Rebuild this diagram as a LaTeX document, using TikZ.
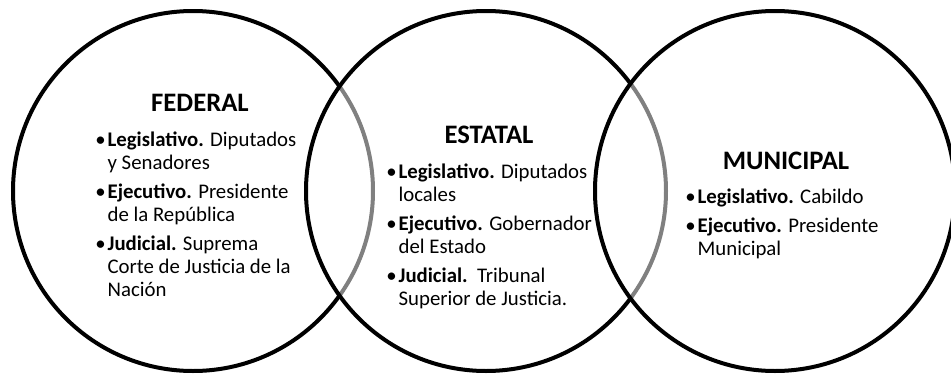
\documentclass[tikz,border=0pt]{standalone}
\usepackage{fontspec}
\setmainfont{Carlito}
\tikzset{
  ring/.style={circle, draw=black, line width=3pt, fill=white, fill opacity=0.5,
    text opacity=1, minimum size=270pt, inner sep=0pt},
  titulo/.style={font=\fontsize{20}{24}\selectfont\bfseries, inner sep=0pt},
  lista/.style={anchor=base west, inner sep=0pt, align=left,
    font=\fontsize{15.6}{17.25}\selectfont}
}
\newcommand{\vinieta}{\textbullet}
\begin{document}
\begin{tikzpicture}[x=0.75pt,y=-0.75pt]
    \useasboundingbox (0,0) rectangle (951,375);

    % The three circles, each one greys the outline underneath
    \node[ring] (federal) at (193,191) {};
    \node[ring] (estatal) at (486,191) {};
    \node[ring] (municipal) at (775,191) {};

    % Federal
    \node[titulo] (tfed) at (200,103) {FEDERAL};
    \node[lista] (lfed) at (95,146) {\begin{tabular}[t]{@{}l@{\hspace{1.5pt}}l@{}}
      \vinieta & \textbf{Legislativo.} Diputados\\
               & y Senadores\\[4.5pt]
      \vinieta & \textbf{Ejecutivo.} Presidente\\
               & de la República\\[4.5pt]
      \vinieta & \textbf{Judicial.} Suprema\\
               & Corte de Justicia de la\\
               & Nación
    \end{tabular}};

    % Estatal
    \node[titulo] (test) at (489,135) {ESTATAL};
    \node[lista] (lest) at (386,178) {\begin{tabular}[t]{@{}l@{\hspace{1.5pt}}l@{}}
      \vinieta & \textbf{Legislativo.} Diputados\\
               & locales\\[4.5pt]
      \vinieta & \textbf{Ejecutivo.} Gobernador\\
               & del Estado\\[4.5pt]
      \vinieta & \textbf{Judicial.}\ \ Tribunal\\
               & Superior de Justicia.
    \end{tabular}};

    % Municipal
    \node[titulo] (tmun) at (786,161) {MUNICIPAL};
    \node[lista] (lmun) at (685,203) {\begin{tabular}[t]{@{}l@{\hspace{1.5pt}}l@{}}
      \vinieta & \textbf{Legislativo.} Cabildo\\[4.5pt]
      \vinieta & \textbf{Ejecutivo.} Presidente\\
               & Municipal
    \end{tabular}};
\end{tikzpicture}
\end{document}
